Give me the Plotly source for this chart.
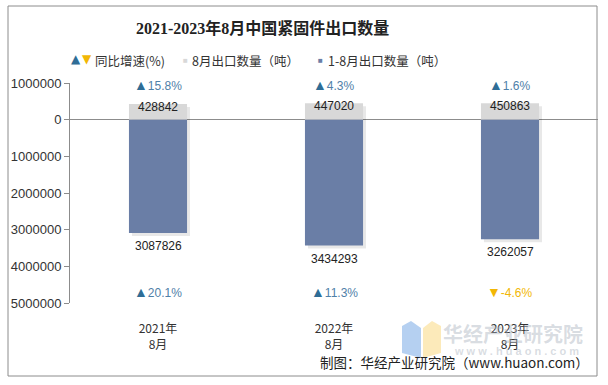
import plotly.graph_objects as go

# ---- data ----
categories = ["2021年<br>8月", "2022年<br>8月", "2023年<br>8月"]
aug_export = [428842, 447020, 450863]          # 8月出口数量（吨）
ytd_export = [3087826, 3434293, 3262057]       # 1-8月出口数量（吨）
aug_growth = [15.8, 4.3, 1.6]                  # 8月同比增速(%)
ytd_growth = [20.1, 11.3, -4.6]                # 1-8月同比增速(%)
y_tickvals = [-1000000, 0, 1000000, 2000000, 3000000, 4000000, 5000000]
y_ticktext = ["1000000", "0", "1000000", "2000000", "3000000", "4000000", "5000000"]

W, H = 608, 385
L, R, T, B = 70, 10, 83, 82
PW, PH = W - L - R, H - T - B
BAR_W = 0.33
Y_MIN, Y_MAX = -1000000, 5000000
PX_TO_Y = (Y_MAX - Y_MIN) / PH      # data units per pixel


def px(x):
    return (x - L) / PW


def py(y):
    return (H - B - y) / PH


NUM_FONT = "Liberation Sans, Arial, sans-serif"
CJK_FONT = "Noto Sans CJK SC, sans-serif"
UP_TRI = "#2f6d96"
UP_TXT = "#4f80a8"
DOWN = "#f2b705"
GRAY_BAR = "#d8d8d8"
BLUE_BAR = "#6a7ea6"


def growth_text(g):
    if g >= 0:
        return (f"<span style='color:{UP_TRI};font-size:14px'>▲</span>"
                f"<span style='color:{UP_TXT}'>{g}%</span>")
    return (f"<span style='color:{DOWN};font-size:14px'>▼</span>"
            f"<span style='color:{DOWN}'>{g}%</span>")


fig = go.Figure()
# soft shadow behind each bar column
fig.add_trace(go.Bar(
    x=categories, y=[a + b for a, b in zip(aug_export, ytd_export)],
    base=[-a + 3 * PX_TO_Y for a in aug_export], width=BAR_W,
    offset=-BAR_W / 2 + 3 * 3 / PW,
    marker=dict(color="rgba(0,0,0,0.09)", line=dict(width=0)),
    hoverinfo="skip", showlegend=False,
))
fig.add_trace(go.Bar(
    x=categories, y=[-v for v in aug_export], width=BAR_W,
    marker=dict(color=GRAY_BAR, line=dict(width=0)),
    hoverinfo="skip", showlegend=False,
))
fig.add_trace(go.Bar(
    x=categories, y=ytd_export, width=BAR_W,
    marker=dict(color=BLUE_BAR, line=dict(width=0)),
    hoverinfo="skip", showlegend=False,
))

annotations = []
lab_font = dict(family=NUM_FONT, size=12, color="#222")
for c, a, v in zip(categories, aug_export, ytd_export):
    annotations.append(dict(x=c, xref="x", y=-a, yref="y", text=str(a), showarrow=False,
                            yanchor="middle", yshift=-3, font=lab_font))
    annotations.append(dict(x=c, xref="x", y=v, yref="y", text=str(v), showarrow=False,
                            yanchor="middle", yshift=-13, font=lab_font))

for c, ga, gy in zip(categories, aug_growth, ytd_growth):
    annotations.append(dict(x=c, xref="x", y=py(85), yref="paper", text=growth_text(ga),
                            showarrow=False, yanchor="middle",
                            font=dict(family=NUM_FONT, size=12)))
    annotations.append(dict(x=c, xref="x", y=py(292), yref="paper", text=growth_text(gy),
                            showarrow=False, yanchor="middle",
                            font=dict(family=NUM_FONT, size=12)))

# title
annotations.append(dict(x=px(262), y=py(28), xref="paper", yref="paper",
                        text="<b>2021-2023年8月中国紧固件出口数量</b>", showarrow=False,
                        xanchor="center", yanchor="middle",
                        font=dict(family="Liberation Serif, Noto Sans CJK SC, serif", size=16, color="#222")))
# legend
leg_font = dict(family=CJK_FONT, size=12.5, color="#333")
annotations += [
    dict(x=px(76), y=py(59), xref="paper", yref="paper", showarrow=False, xanchor="center", yanchor="middle",
         text="▲", font=dict(family="DejaVu Sans", size=12, color=UP_TRI), borderpad=0),
    dict(x=px(87), y=py(59), xref="paper", yref="paper", showarrow=False, xanchor="center", yanchor="middle",
         text="▼", font=dict(family="DejaVu Sans", size=12, color=DOWN), borderpad=0),
    dict(x=px(93), y=py(60), xref="paper", yref="paper", showarrow=False, xanchor="left", yanchor="middle",
         text="同比增速(%)", font=leg_font),
    dict(x=px(181), y=py(60), xref="paper", yref="paper", showarrow=False, xanchor="left", yanchor="middle",
         text=f"<span style='color:{GRAY_BAR}'>■</span>", font=dict(family=NUM_FONT, size=8)),
    dict(x=px(190), y=py(60), xref="paper", yref="paper", showarrow=False, xanchor="left", yanchor="middle",
         text="8月出口数量（吨）", font=leg_font),
    dict(x=px(316), y=py(60), xref="paper", yref="paper", showarrow=False, xanchor="left", yanchor="middle",
         text=f"<span style='color:{BLUE_BAR}'>■</span>", font=dict(family=NUM_FONT, size=8)),
    dict(x=px(326), y=py(60), xref="paper", yref="paper", showarrow=False, xanchor="left", yanchor="middle",
         text="1-8月出口数量（吨）", font=leg_font),
]
# watermark
annotations += [
    dict(x=px(513), y=py(333), xref="paper", yref="paper", showarrow=False, xanchor="center", yanchor="middle",
         text="<b>华经产业研究院</b>", font=dict(family=CJK_FONT, size=20, color="rgba(170,178,190,0.45)")),
    dict(x=px(516), y=py(351), xref="paper", yref="paper", showarrow=False, xanchor="center", yanchor="middle",
         text="<b>w w w . h u a o n . c o m</b>", font=dict(family=NUM_FONT, size=11, color="rgba(170,178,190,0.45)")),
]
# source
annotations.append(dict(x=px(591), y=py(362), xref="paper", yref="paper", showarrow=False,
                        xanchor="right", yanchor="middle",
                        text="制图：华经产业研究院（www.huaon.com）",
                        font=dict(family=CJK_FONT, size=13.5, color="#222")))

shapes = [
    dict(type="rect", xref="paper", yref="paper", x0=px(8), x1=px(597), y0=py(376), y1=py(6),
         line=dict(color="#8c8c8c", width=1), fillcolor="rgba(0,0,0,0)", layer="below"),
    dict(type="path", xref="paper", yref="paper",
         path=f"M {px(402)},{py(326)} L {px(411)},{py(321)} L {px(421)},{py(328)} L {px(421)},{py(358)} L {px(402)},{py(353)} Z",
         line=dict(width=0), fillcolor="rgba(120,170,230,0.55)", layer="below"),
    dict(type="path", xref="paper", yref="paper",
         path=f"M {px(423)},{py(328)} L {px(432)},{py(321)} L {px(441)},{py(326)} L {px(441)},{py(353)} L {px(423)},{py(358)} Z",
         line=dict(width=0), fillcolor="rgba(250,220,140,0.6)", layer="below"),
]

fig.update_layout(
    width=W, height=H, margin=dict(l=L, r=R, t=T, b=B, autoexpand=False),
    paper_bgcolor="white", plot_bgcolor="white",
    barmode="overlay",
    showlegend=False,
    annotations=annotations, shapes=shapes,
    xaxis=dict(showgrid=False, showline=False, ticks="", zeroline=False,
               tickfont=dict(family=CJK_FONT, size=12, color="#333"),
               ticklabelstandoff=17),
    yaxis=dict(range=[Y_MAX, Y_MIN], tickvals=y_tickvals, ticktext=y_ticktext,
               showgrid=False, showline=True, linecolor="#8c8c8c", linewidth=1,
               ticks="outside", ticklen=5, tickcolor="#8c8c8c",
               zeroline=True, zerolinecolor="#8c8c8c", zerolinewidth=1,
               tickfont=dict(family=NUM_FONT, size=13, color="#333")),
)

fig.write_html("out.html", config={"displayModeBar": False},
               post_script="document.body.style.margin='0';document.body.style.overflow='hidden';")
